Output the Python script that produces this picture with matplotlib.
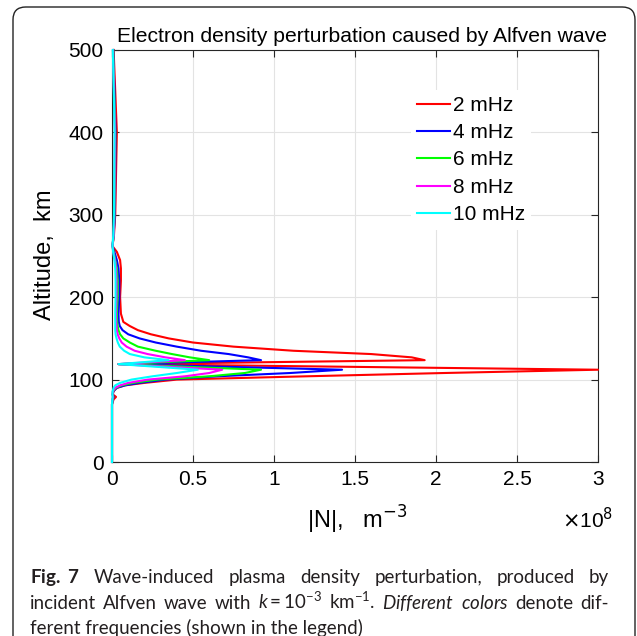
import matplotlib
matplotlib.use('Agg')
import matplotlib.pyplot as plt
from matplotlib.patches import FancyBboxPatch

# altitude grid (km) shared by all curves
alt_km = [0, 70, 76, 79, 82, 86, 90, 93, 96, 100,
          104, 108, 112, 118.8, 123.6, 127, 131, 135, 140, 145,
          150, 155, 160, 165, 170, 180, 200, 220, 235, 245,
          255, 262, 275, 300, 350, 400, 450, 500]

# |N| in units of 1e8 m^-3
n_2mhz = [0, 0, 0.01, 0.025, 0.005, 0.01, 0.03, 0.08, 0.2, 0.4,
          1.2, 2.05, 3.0, 0.04, 1.93, 1.85, 1.6, 1.12, 0.75, 0.5,
          0.35, 0.24, 0.16, 0.11, 0.07, 0.055, 0.05, 0.055, 0.055, 0.05,
          0.03, 0.003, 0.012, 0.02, 0.025, 0.03, 0.02, 0.01]
n_4mhz = [0, 0, 0.005, 0.01, 0.005, 0.008, 0.03, 0.08, 0.17, 0.33,
          0.65, 1.1, 1.42, 0.04, 0.92, 0.84, 0.72, 0.55, 0.4, 0.27,
          0.17, 0.1, 0.065, 0.048, 0.042, 0.04, 0.045, 0.045, 0.04, 0.03,
          0.015, 0.003, 0.01, 0.018, 0.02, 0.022, 0.015, 0.008]
n_6mhz = [0, 0, 0.004, 0.008, 0.004, 0.006, 0.025, 0.06, 0.13, 0.28,
          0.6, 0.82, 0.92, 0.04, 0.6, 0.48, 0.37, 0.27, 0.16, 0.11,
          0.07, 0.05, 0.04, 0.035, 0.032, 0.03, 0.035, 0.035, 0.03, 0.02,
          0.01, 0.003, 0.01, 0.015, 0.018, 0.02, 0.013, 0.007]
n_8mhz = [0, 0, 0.003, 0.006, 0.003, 0.005, 0.02, 0.05, 0.1, 0.22,
          0.45, 0.6, 0.68, 0.04, 0.45, 0.33, 0.22, 0.14, 0.09, 0.06,
          0.045, 0.035, 0.03, 0.028, 0.026, 0.025, 0.028, 0.028, 0.025, 0.018,
          0.008, 0.003, 0.01, 0.014, 0.016, 0.018, 0.012, 0.006]
n_10mhz = [0, 0, 0.002, 0.004, 0.002, 0.004, 0.01, 0.02, 0.05, 0.12,
           0.25, 0.4, 0.53, 0.04, 0.35, 0.2, 0.11, 0.075, 0.048, 0.036,
           0.028, 0.022, 0.02, 0.02, 0.02, 0.02, 0.022, 0.022, 0.02, 0.015,
           0.007, 0.003, 0.008, 0.012, 0.014, 0.016, 0.011, 0.005]

labels = ['2 mHz', '4 mHz', '6 mHz', '8 mHz', '10 mHz']
colors = ['#ff0000', '#0000ff', '#00ff00', '#ff00ff', '#00ffff']
x_ticks = [0, 0.5, 1, 1.5, 2, 2.5, 3]
x_ticklabels = ['0', '0.5', '1', '1.5', '2', '2.5', '3']
y_ticks = [0, 100, 200, 300, 400, 500]

# caption words, lines 1-2 are justified
cap_line1 = [r'$\mathbf{Fig.\ 7}$', 'Wave-induced', 'plasma', 'density', 'perturbation,',
             'produced', 'by']
cap_line2 = ['incident', 'Alfven', 'wave', 'with', r'$k = 10^{-3}$', r'km$^{-1}$.',
             r'$\mathit{Different}$', r'$\mathit{colors}$', 'denote', 'dif-']
cap_line3 = 'ferent frequencies (shown in the legend)'

plt.rcParams['mathtext.fontset'] = 'custom'
plt.rcParams['mathtext.rm'] = 'Lato'
plt.rcParams['mathtext.it'] = 'Lato:italic'
plt.rcParams['mathtext.bf'] = 'Lato:bold'

W, H = 637, 636


def fx(x):
    return x / W


def fy(y):
    return 1 - y / H


fig = plt.figure(figsize=(W / 100, H / 100), dpi=100)
ax = fig.add_axes([fx(112), fy(462), (598 - 112) / W, (462 - 50) / H])

series = [n_2mhz, n_4mhz, n_6mhz, n_8mhz, n_10mhz]
for vals, lab, col in zip(series, labels, colors):
    ax.plot(vals, alt_km, color=col, lw=1.5, label=lab, clip_on=False, zorder=3)

ax.set_xlim(0, 3)
ax.set_ylim(0, 500)
ax.set_xticks(x_ticks)
ax.set_xticklabels(x_ticklabels)
ax.set_yticks(y_ticks)
ax.tick_params(direction='in', top=True, right=True, length=5, width=0.8,
               labelsize=15, pad=6, colors='#262626', labelcolor='black')
for lab in ax.get_xticklabels() + ax.get_yticklabels():
    lab.set_family('Liberation Sans')
for sp in ax.spines.values():
    sp.set_color('#262626')
    sp.set_linewidth(0.8)
ax.grid(True, color='#e3e3e3', lw=0.8)
ax.set_axisbelow(True)

leg = ax.legend(loc='upper left', bbox_to_anchor=(0.615, 0.904), frameon=True,
                fancybox=False, edgecolor='none', facecolor='white', framealpha=1,
                prop={'family': 'Liberation Sans', 'size': 15},
                handlelength=1.6, handletextpad=0.1, labelspacing=0.4,
                borderpad=0.3, borderaxespad=0)

fig.text(fx(362), fy(36), 'Electron density perturbation caused by Alfven wave',
         ha='center', va='center', fontsize=15.2, family='Liberation Sans')
fig.text(fx(45), fy(255), 'Altitude,  km', rotation=90, ha='center', va='center',
         fontsize=17, family='Liberation Sans')
fig.text(fx(357), fy(520), '|N|,   m$^{-3}$', ha='center', va='center',
         fontsize=17, family='Liberation Sans', math_fontfamily='dejavusans')
fig.text(fx(588), fy(520), r'$\times$10$^{8}$', ha='center', va='center',
         fontsize=15, family='Liberation Sans', math_fontfamily='dejavusans')

# caption box
box = FancyBboxPatch((fx(13), -0.03), fx(635) - fx(13), fy(7) + 0.03,
                     boxstyle='round,pad=0,rounding_size=0.02',
                     transform=fig.transFigure, fill=False, ec='#222222', lw=1.0)
fig.patches.append(box)

cap_kw = dict(ha='left', va='baseline', fontsize=13.5, family='Lato', color='#231f20')
renderer = fig.canvas.get_renderer()


def justify_line(words, y, x0=30, x1=609):
    texts = [fig.text(0, fy(y), w, **cap_kw) for w in words]
    widths = [t.get_window_extent(renderer).width for t in texts]
    gap = (x1 - x0 - sum(widths)) / (len(words) - 1)
    x = x0
    for t, w in zip(texts, widths):
        t.set_x(fx(x))
        x += w + gap


justify_line(cap_line1, 583)
justify_line(cap_line2, 609)
fig.text(fx(30), fy(634), cap_line3, **cap_kw)

fig.savefig('out.png', dpi=100)
